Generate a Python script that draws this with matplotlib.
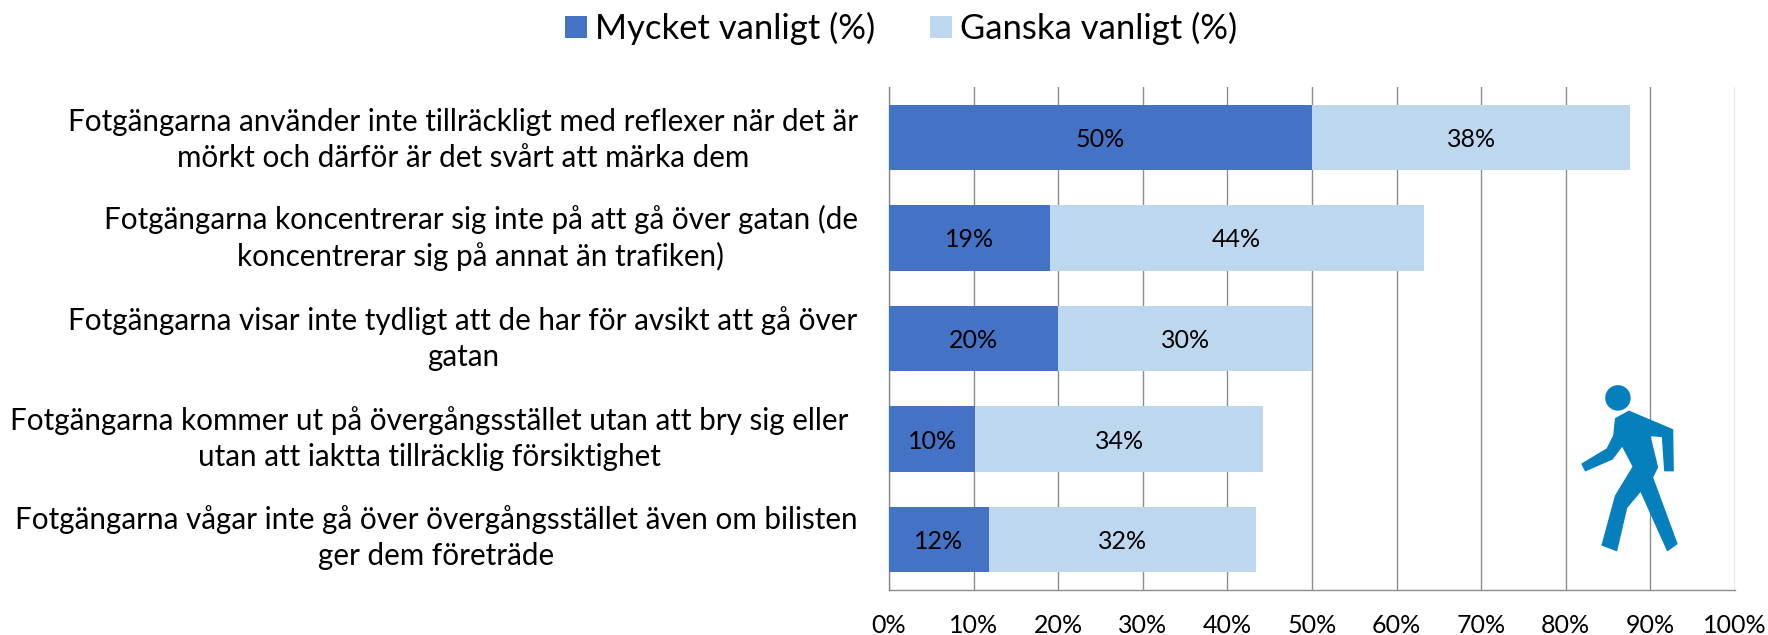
import matplotlib
matplotlib.use("Agg")
import matplotlib.pyplot as plt
from matplotlib.patches import Polygon, Circle
from matplotlib.transforms import ScaledTranslation

plt.rcParams['font.family'] = ['Lato', 'DejaVu Sans']

categories = [
    "Fotgängarna använder inte tillräckligt med reflexer när det är\nmörkt och därför är det svårt att märka dem",
    "Fotgängarna koncentrerar sig inte på att gå över gatan (de\nkoncentrerar sig på annat än trafiken)",
    "Fotgängarna visar inte tydligt att de har för avsikt att gå över\ngatan",
    "Fotgängarna kommer ut på övergångsstället utan att bry sig eller\nutan att iaktta tillräcklig försiktighet",
    "Fotgängarna vågar inte gå över övergångsstället även om bilisten\nger dem företräde",
]
mycket = [50.0, 19.0, 20.0, 10.2, 11.8]
ganska = [37.6, 44.2, 30.0, 34.0, 31.6]
mycket_labels = ["50%", "19%", "20%", "10%", "12%"]
ganska_labels = ["38%", "44%", "30%", "34%", "32%"]
xticks = list(range(0, 101, 10))
series_names = ["Mycket vanligt (%)", "Ganska vanligt (%)"]

W, H = 1768, 635
fig = plt.figure(figsize=(W / 100, H / 100), dpi=100, facecolor='white')
ax = fig.add_axes([889 / W, 1 - 590 / H, (1735 - 889) / W, (590 - 87) / H])

y = list(range(len(categories)))
b1 = ax.barh(y, mycket, height=0.65, color='#4472C4', label=series_names[0], zorder=3)
b2 = ax.barh(y, ganska, left=mycket, height=0.65, color='#BDD7EE', label=series_names[1], zorder=3)
for bars, labs in ((b1, mycket_labels), (b2, ganska_labels)):
    for t in ax.bar_label(bars, labels=labs, label_type='center', fontsize=18, color='black', zorder=4):
        t.xyann = (0, -1.5)

ax.set_xlim(0, 100)
ax.set_ylim(len(categories) - 0.5, -0.5)
ax.set_xticks(xticks)
ax.set_xticklabels([f"{v}%" for v in xticks], fontsize=18, color='black')
ax.set_yticks(y)
ax.set_yticklabels(categories, fontsize=21.3, color='black', multialignment='center', linespacing=1.34)
ax.tick_params(axis='both', length=0)
ax.tick_params(axis='x', pad=17)
ax.tick_params(axis='y', pad=22.5)
ax.grid(axis='x', color='#8c8c8c', linewidth=1, zorder=0)
ax.set_axisbelow(True)
for s in ['top', 'right']:
    ax.spines[s].set_visible(False)
for s in ['left', 'bottom']:
    ax.spines[s].set_color('#8c8c8c')
    ax.spines[s].set_linewidth(1)

label_dy_px = [4, 6.5, 6.5, 7, 9]
for i, lab in enumerate(ax.get_yticklabels()):
    dx = -9 / 100 if i == 3 else 0
    lab.set_transform(lab.get_transform() + ScaledTranslation(dx, label_dy_px[i] / 100, fig.dpi_scale_trans))

fig.legend(handles=[b1, b2], labels=series_names, loc='upper left',
           bbox_to_anchor=(534 / W, 1 + 19 / H), ncol=2, frameon=False, fontsize=24.9,
           handlelength=0.63, handleheight=0.63, handletextpad=0.23, columnspacing=1.6)

# walking-person icon, in the pixel frame of its own small overlay
iax = fig.add_axes([1500 / W, 1 - 635 / H, 268 / W, 275 / H])
iax.set_xlim(0, 800)
iax.set_ylim(820, 0)
iax.axis('off')
iax.patch.set_alpha(0)
body = [(245, 310), (320, 265), (340, 225), (345, 175), (385, 153), (515, 208), (517, 330),
        (492, 330), (485, 228), (447, 225), (470, 320), (455, 350), (528, 548), (500, 568),
        (420, 390), (378, 440), (348, 568), (305, 552), (345, 405), (398, 318), (365, 255),
        (335, 295), (255, 330)]
iax.add_patch(Polygon(body, closed=True, facecolor='#0580BC', edgecolor='#0580BC',
                      linewidth=1, joinstyle='round'))
iax.add_patch(Circle((352, 113), 38, facecolor='#0580BC', edgecolor='none'))

fig.savefig('out.png', dpi=100)
